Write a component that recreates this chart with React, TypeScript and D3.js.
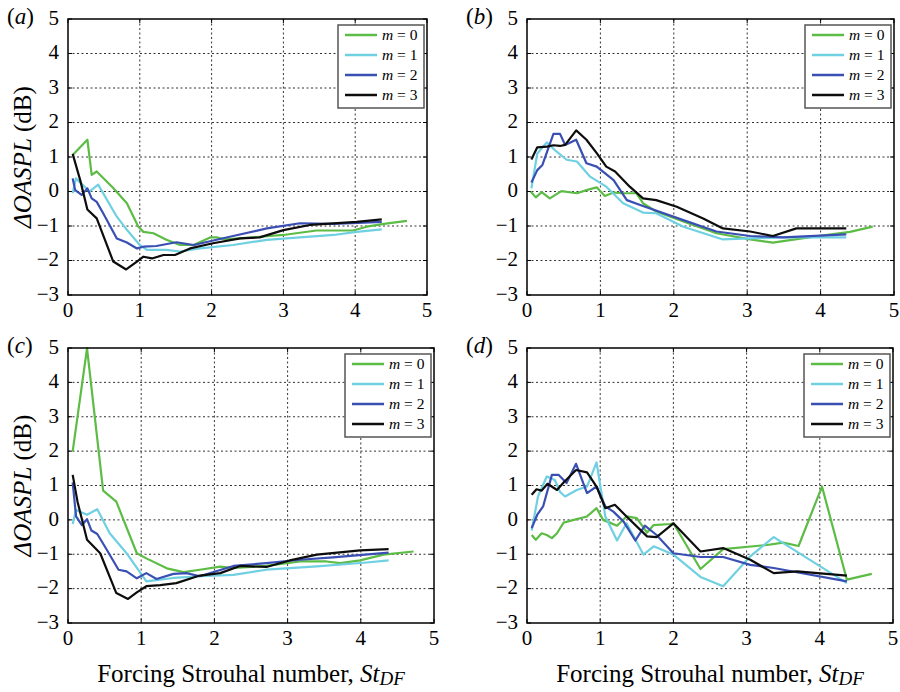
import React from "react";
import * as d3 from "d3";

// forcing Strouhal number vs ΔOASPL
const modes = ["0", "1", "2", "3"];
const colors = ["#5cbc45", "#6fd0e2", "#3a4fb3", "#0d0d0d"];
const xTicks = [0, 1, 2, 3, 4, 5];
const yTicks = [-3, -2, -1, 0, 1, 2, 3, 4, 5];

const a0 = [[0.065, 1.06], [0.27, 1.5], [0.33, 0.48], [0.4, 0.58], [0.63, 0.1], [0.82, -0.34], [0.98, -1.02], [1.05, -1.17], [1.19, -1.21], [1.37, -1.4], [1.56, -1.55], [1.75, -1.55], [1.98, -1.33], [2.07, -1.33], [2.2, -1.39], [3.0, -1.26], [3.46, -1.13], [3.97, -1.13], [4.16, -1.02], [4.4, -0.94], [4.72, -0.85]];
const a1 = [[0.065, -0.05], [0.11, 0.38], [0.3, 0.0], [0.42, 0.2], [0.68, -0.73], [0.82, -1.11], [1.0, -1.55], [1.1, -1.69], [1.37, -1.69], [1.56, -1.74], [1.84, -1.65], [2.3, -1.55], [2.77, -1.4], [3.23, -1.33], [3.7, -1.26], [4.02, -1.17], [4.37, -1.1]];
const a2 = [[0.065, 0.38], [0.1, 0.04], [0.19, -0.1], [0.27, 0.09], [0.33, -0.2], [0.4, -0.3], [0.49, -0.63], [0.68, -1.36], [0.82, -1.48], [0.96, -1.65], [1.05, -1.6], [1.23, -1.58], [1.51, -1.47], [1.75, -1.55], [2.07, -1.4], [2.3, -1.29], [2.77, -1.07], [3.23, -0.92], [3.7, -0.94], [4.37, -0.88]];
const a3 = [[0.065, 1.09], [0.17, 0.33], [0.27, -0.52], [0.4, -0.78], [0.63, -2.03], [0.81, -2.26], [0.96, -2.03], [1.05, -1.89], [1.17, -1.94], [1.33, -1.84], [1.49, -1.84], [1.7, -1.65], [2.02, -1.5], [2.4, -1.36], [2.67, -1.33], [3.0, -1.12], [3.37, -0.97], [4.02, -0.88], [4.37, -0.81]];

const b0 = [[0.05, 0.0], [0.12, -0.17], [0.2, -0.02], [0.31, -0.2], [0.47, 0.01], [0.68, -0.05], [0.81, 0.04], [0.95, 0.12], [1.06, -0.13], [1.18, -0.03], [1.31, -0.05], [1.49, -0.05], [1.58, -0.34], [1.76, -0.58], [2.13, -0.87], [2.58, -1.21], [3.04, -1.39], [3.35, -1.48], [3.84, -1.33], [4.4, -1.17], [4.71, -1.02]];
const b1 = [[0.06, 0.09], [0.14, 1.1], [0.27, 1.42], [0.4, 1.16], [0.54, 0.92], [0.68, 0.87], [0.86, 0.43], [1.08, 0.14], [1.31, -0.34], [1.58, -0.61], [1.76, -0.63], [2.13, -1.02], [2.67, -1.39], [3.04, -1.36], [3.49, -1.33], [4.35, -1.33]];
const b2 = [[0.06, 0.26], [0.14, 0.62], [0.21, 0.77], [0.36, 1.67], [0.45, 1.67], [0.52, 1.35], [0.67, 1.5], [0.81, 0.82], [0.95, 0.72], [1.18, 0.33], [1.36, -0.25], [1.58, -0.42], [2.13, -0.83], [2.58, -1.16], [3.04, -1.29], [3.49, -1.33], [4.35, -1.24]];
const b3 = [[0.06, 0.93], [0.14, 1.28], [0.27, 1.3], [0.36, 1.34], [0.45, 1.32], [0.52, 1.35], [0.67, 1.77], [0.81, 1.5], [0.95, 1.11], [1.08, 0.72], [1.2, 0.58], [1.4, 0.14], [1.58, -0.2], [1.76, -0.25], [2.04, -0.44], [2.4, -0.78], [2.67, -1.07], [3.04, -1.16], [3.35, -1.29], [3.67, -1.07], [4.35, -1.07]];

const c0 = [[0.064, 1.99], [0.26, 4.99], [0.48, 0.85], [0.66, 0.53], [0.94, -0.97], [1.07, -1.12], [1.35, -1.41], [1.58, -1.52], [1.8, -1.45], [2.08, -1.36], [2.26, -1.4], [2.71, -1.34], [3.17, -1.21], [3.53, -1.21], [3.72, -1.26], [3.99, -1.18], [4.31, -1.01], [4.72, -0.92]];
const c1 = [[0.064, -0.12], [0.11, 0.29], [0.26, 0.15], [0.4, 0.31], [0.57, -0.39], [0.8, -0.97], [1.07, -1.79], [1.44, -1.69], [1.8, -1.64], [2.26, -1.6], [2.71, -1.45], [3.4, -1.35], [4.08, -1.24], [4.38, -1.18]];
const c2 = [[0.064, 1.09], [0.11, 0.1], [0.19, -0.15], [0.26, 0.02], [0.32, -0.31], [0.4, -0.41], [0.53, -0.87], [0.69, -1.45], [0.8, -1.5], [0.94, -1.7], [1.07, -1.55], [1.21, -1.72], [1.44, -1.57], [1.62, -1.55], [1.8, -1.64], [2.26, -1.34], [2.71, -1.26], [3.17, -1.16], [3.62, -1.09], [4.38, -0.95]];
const c3 = [[0.064, 1.31], [0.13, 0.53], [0.26, -0.58], [0.44, -0.97], [0.66, -2.13], [0.82, -2.3], [0.94, -2.11], [1.07, -1.93], [1.26, -1.9], [1.48, -1.84], [1.8, -1.62], [2.08, -1.55], [2.35, -1.34], [2.71, -1.37], [3.03, -1.18], [3.4, -1.01], [3.99, -0.89], [4.38, -0.85]];

const d0 = [[0.064, -0.44], [0.12, -0.58], [0.2, -0.39], [0.27, -0.44], [0.34, -0.53], [0.41, -0.39], [0.5, -0.08], [0.68, 0.02], [0.82, 0.1], [0.95, 0.34], [1.04, 0.0], [1.13, -0.08], [1.23, -0.17], [1.36, 0.1], [1.5, 0.05], [1.64, -0.37], [1.73, -0.15], [1.96, -0.12], [2.0, -0.1], [2.37, -1.43], [2.68, -0.85], [3.28, -0.73], [3.5, -0.66], [3.71, -0.76], [4.03, 0.97], [4.37, -1.74], [4.71, -1.57]];
const d1 = [[0.064, -0.31], [0.15, 0.68], [0.27, 1.26], [0.38, 1.16], [0.45, 0.82], [0.52, 0.68], [0.68, 0.87], [0.82, 0.97], [0.95, 1.67], [1.07, 0.1], [1.23, -0.6], [1.36, -0.1], [1.59, -1.01], [1.73, -0.77], [2.0, -1.01], [2.37, -1.66], [2.68, -1.93], [3.05, -1.06], [3.37, -0.5], [4.37, -1.84]];
const d2 = [[0.064, -0.24], [0.14, 0.15], [0.22, 0.39], [0.34, 1.31], [0.43, 1.31], [0.54, 1.07], [0.67, 1.63], [0.82, 0.78], [0.95, 0.97], [1.07, 0.39], [1.18, 0.24], [1.32, -0.05], [1.48, -0.6], [1.61, -0.17], [1.77, -0.44], [2.0, -0.97], [2.37, -1.08], [2.68, -1.08], [3.05, -1.31], [3.37, -1.4], [4.37, -1.79]];
const d3s = [[0.064, 0.73], [0.13, 0.89], [0.2, 0.85], [0.28, 1.05], [0.41, 0.87], [0.5, 1.09], [0.67, 1.45], [0.82, 1.38], [0.95, 0.97], [1.07, 0.34], [1.2, 0.44], [1.36, 0.1], [1.64, -0.48], [1.77, -0.5], [2.0, -0.1], [2.37, -0.92], [2.68, -0.82], [3.05, -1.16], [3.37, -1.55], [3.69, -1.5], [4.37, -1.62]];

const panels = [
  { tag: "a", series: [a0, a1, a2, a3], box: [68, 427, 19, 295], yLabel: true, xLabel: false },
  { tag: "b", series: [b0, b1, b2, b3], box: [527, 894, 19, 295], yLabel: false, xLabel: false },
  { tag: "c", series: [c0, c1, c2, c3], box: [68, 434, 348, 623], yLabel: true, xLabel: true },
  { tag: "d", series: [d0, d1, d2, d3s], box: [527, 893, 348, 623], yLabel: false, xLabel: true },
];

const font = '"Liberation Serif", "Times New Roman", serif';

function Panel({ p }) {
  const [l, r, t, b] = p.box;
  const x = d3.scaleLinear().domain([0, 5]).range([l, r]);
  const y = d3.scaleLinear().domain([-3, 5]).range([b, t]);
  const line = d3.line().x((d) => x(d[0])).y((d) => y(d[1]));
  const fmt = d3.format("d");
  const lx0 = r - 89;
  const ly0 = t + 6;

  return (
    <g>
      {xTicks.slice(1, -1).map((v) => (
        <line key={"gx" + v} x1={x(v)} x2={x(v)} y1={t} y2={b} stroke="#333" strokeWidth={1} strokeDasharray="2,2.5" />
      ))}
      {yTicks.slice(1, -1).map((v) => (
        <line key={"gy" + v} x1={l} x2={r} y1={y(v)} y2={y(v)} stroke="#333" strokeWidth={1} strokeDasharray="2,2.5" />
      ))}
      {xTicks.map((v) => (
        <g key={"tx" + v}>
          <line x1={x(v)} x2={x(v)} y1={b} y2={b - 4} stroke="#000" />
          <line x1={x(v)} x2={x(v)} y1={t} y2={t + 4} stroke="#000" />
          <text x={x(v)} y={b + 17} textAnchor="middle" dominantBaseline="middle" fontSize={21}>
            {fmt(v)}
          </text>
        </g>
      ))}
      {yTicks.map((v) => (
        <g key={"ty" + v}>
          <line x1={l} x2={l + 4} y1={y(v)} y2={y(v)} stroke="#000" />
          <line x1={r} x2={r - 4} y1={y(v)} y2={y(v)} stroke="#000" />
          <text x={l - 9} y={y(v) + 1} textAnchor="end" dominantBaseline="middle" fontSize={21}>
            {fmt(v)}
          </text>
        </g>
      ))}
      {p.series.map((s, i) => (
        <path key={"s" + i} d={line(s)} fill="none" stroke={colors[i]} strokeWidth={2.2} strokeLinejoin="round" />
      ))}
      <rect x={l} y={t} width={r - l} height={b - t} fill="none" stroke="#000" strokeWidth={1.5} />
      <rect x={lx0} y={ly0} width={86} height={83} fill="#fff" stroke="#555" strokeWidth={1.5} />
      {modes.map((m, i) => (
        <g key={"lg" + m}>
          <line x1={lx0 + 7} x2={lx0 + 39} y1={ly0 + 10 + i * 20} y2={ly0 + 10 + i * 20} stroke={colors[i]} strokeWidth={2.5} />
          <text x={lx0 + 44} y={ly0 + 11 + i * 20} dominantBaseline="middle" fontSize={15.5}>
            <tspan fontStyle="italic">m</tspan> = {m}
          </text>
        </g>
      ))}
      <text x={l - 61} y={t} dominantBaseline="middle" fontSize={23}>
        (<tspan fontStyle="italic">{p.tag}</tspan>)
      </text>
      {p.yLabel && (
        <text transform={`translate(${l - 43},${(t + b) / 2}) rotate(-90)`} textAnchor="middle" dominantBaseline="middle" fontSize={25}>
          <tspan fontStyle="italic">ΔOASPL</tspan> (dB)
        </text>
      )}
      {p.xLabel && (
        <text x={(l + r) / 2} y={b + 53} textAnchor="middle" dominantBaseline="middle" fontSize={25}>
          Forcing Strouhal number, <tspan fontStyle="italic">St</tspan>
          <tspan fontStyle="italic" fontSize={19} dy={5}>DF</tspan>
        </text>
      )}
    </g>
  );
}

export default function App() {
  return (
    <svg width={900} height={692} style={{ position: "absolute", left: 0, top: 0, background: "#fff", fontFamily: font }}>
      {panels.map((p) => (
        <Panel key={p.tag} p={p} />
      ))}
    </svg>
  );
}
